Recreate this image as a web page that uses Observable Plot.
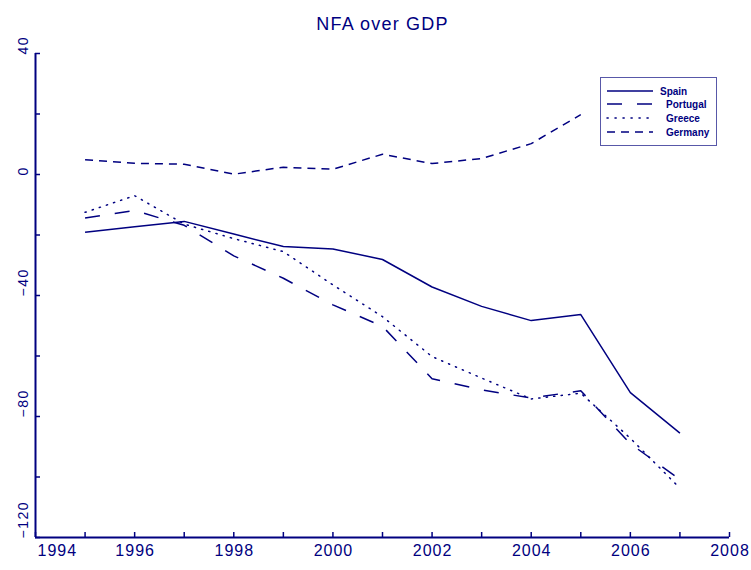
<!DOCTYPE html>
<html>
<head>
<meta charset="utf-8">
<script src="https://cdn.jsdelivr.net/npm/d3@7"></script>
<script src="https://cdn.jsdelivr.net/npm/@observablehq/plot@0.6"></script>
<style>
  body { margin: 0; background: white; }
  #wrap { position: relative; width: 751px; height: 570px; overflow: hidden; }
  #legend { position: absolute; left: 600px; top: 77px; width: 115px; height: 67px;
    border: 1.5px solid #5858a8; background: white; font-family: "Liberation Sans", Arial, sans-serif;
    font-size: 10px; font-weight: bold; color: #000080; }
  #legend svg { position: absolute; left: 0; top: 0; }
</style>
</head>
<body>
<div id="wrap"></div>
<script>
const navy = "#000080";

// Data
const years = [1995, 1996, 1997, 1998, 1999, 2000, 2001, 2002, 2003, 2004, 2005, 2006, 2007];
const spain    = [-19.1, -17.3, -15.5, -19.7, -23.8, -24.6, -28.1, -37.2, -43.6, -48.3, -46.3, -72.1, -85.5];
const portugal = [-14.4, -11.9, -16.8, -26.9, -34.3, -43.1, -50.2, -67.5, -71.2, -73.9, -71.5, -89.0, -100.8];
const greece   = [-12.5, -7.0, -16.4, -21.2, -25.5, -36.5, -47.0, -60.2, -67.3, -74.2, -72.3, -87.2, -103.7];
const germanyYears = [1995, 1996, 1997, 1998, 1999, 2000, 2001, 2002, 2003, 2004, 2005];
const germany  = [4.9, 3.7, 3.4, 0.1, 2.4, 1.75, 6.7, 3.6, 5.3, 10.2, 19.8];

const seriesNames = ["Spain", "Portugal", "Greece", "Germany"];
const xTickYears = d3.range(1994, 2009);
const xLabelYears = [1994, 1996, 1998, 2000, 2002, 2004, 2006, 2008];
const yTickVals = [40, 20, 0, -20, -40, -60, -80, -100, -120];
const yLabelVals = [40, 0, -40, -80, -120];

const dashes = { Spain: null, Portugal: "15,15", Greece: "1.2,6.3", Germany: "8,6" };

const rows = (xs, ys, name) => xs.map((x, i) => ({ year: x, value: ys[i], name }));
const table = [
  ...rows(years, spain, "Spain"),
  ...rows(years, portugal, "Portugal"),
  ...rows(years, greece, "Greece"),
  ...rows(germanyYears, germany, "Germany")
];

const fmtY = d => d < 0 ? "\u2212" + Math.abs(d) : String(d);

const chart = Plot.plot({
  width: 751,
  height: 570,
  marginLeft: 35,
  marginRight: 22,
  marginTop: 53,
  marginBottom: 33,
  x: { domain: [1994, 2008], label: null },
  y: { domain: [-120, 40], label: null },
  style: { fontFamily: "Liberation Sans, Arial, sans-serif", color: navy, background: "white", overflow: "visible" },
  marks: [
    ...seriesNames.map(n => Plot.line(table.filter(d => d.name === n), {
      x: "year", y: "value", stroke: navy, strokeWidth: 1.5,
      strokeDasharray: dashes[n], strokeLinecap: n === "Greece" ? "round" : "butt"
    })),
    Plot.ruleX([1994], { stroke: navy, strokeWidth: 2 }),
    Plot.ruleY([-120], { stroke: navy, strokeWidth: 2 }),
    Plot.axisX(xTickYears, { tickSize: -5, tickFormat: () => "", label: null, stroke: navy, strokeWidth: 1.5 }),
    Plot.axisY(yTickVals, { tickSize: -5, tickFormat: () => "", label: null, stroke: navy, strokeWidth: 1.5 }),
    Plot.text(xLabelYears.filter(d => d !== 1994), {
      x: d => d, frameAnchor: "bottom", dy: 18, dx: 0.5, text: d => String(d), fontSize: 16, fill: navy,
      className: "xlab"
    }),
    Plot.text(xLabelYears.filter(d => d === 1994), {
      x: d => d, frameAnchor: "bottom", dy: 18, dx: 2, textAnchor: "start", text: d => String(d), fontSize: 16, fill: navy,
      className: "xlab"
    }),
    Plot.text(yLabelVals, {
      y: d => d, frameAnchor: "left", dx: -12, dy: 1, rotate: -90, text: fmtY, fontSize: 14, fill: navy,
      className: "ylab"
    }),
    Plot.text(["NFA over GDP"], {
      frameAnchor: "top", dy: -36, text: d => d, fontSize: 18, fill: navy, className: "ttl"
    })
  ]
});

const wrap = document.getElementById("wrap");
wrap.appendChild(chart);
d3.select(chart).selectAll(".ttl text").style("letter-spacing", "1.2px");
d3.select(chart).selectAll(".xlab text").style("letter-spacing", "1px");
d3.select(chart).selectAll(".ylab text").style("letter-spacing", "1.5px");

// Legend
const legend = document.createElement("div");
legend.id = "legend";
const rowsY = [13, 26, 40, 54];
const NS = "http://www.w3.org/2000/svg";
const svg = document.createElementNS(NS, "svg");
svg.setAttribute("width", 115);
svg.setAttribute("height", 67);
seriesNames.forEach((n, i) => {
  const l = document.createElementNS(NS, "line");
  l.setAttribute("x1", 6); l.setAttribute("x2", 52);
  l.setAttribute("y1", rowsY[i]); l.setAttribute("y2", rowsY[i]);
  l.setAttribute("stroke", navy); l.setAttribute("stroke-width", 1.5);
  if (dashes[n]) l.setAttribute("stroke-dasharray", n === "Greece" ? "1.2,6.8" : dashes[n]);
  if (n === "Greece") l.setAttribute("stroke-linecap", "round");
  svg.appendChild(l);
  const t = document.createElementNS(NS, "text");
  t.setAttribute("x", n === "Spain" ? 59 : 65);
  t.setAttribute("y", rowsY[i] + 3.5);
  t.setAttribute("fill", navy);
  t.setAttribute("font-size", 10);
  t.setAttribute("font-weight", "bold");
  t.setAttribute("font-family", "Liberation Sans, Arial, sans-serif");
  t.textContent = n;
  svg.appendChild(t);
});
legend.appendChild(svg);
wrap.appendChild(legend);
</script>
</body>
</html>
